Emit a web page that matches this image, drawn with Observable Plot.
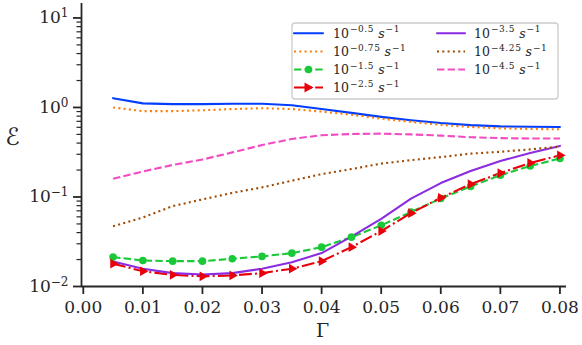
<!DOCTYPE html>
<html><head><meta charset="utf-8">
<script src="https://cdn.jsdelivr.net/npm/d3@7"></script>
<script src="https://cdn.jsdelivr.net/npm/@observablehq/plot@0.6"></script>
<style>body{margin:0;background:#fff;} #chart{position:relative;width:582px;height:345px;}</style>
</head><body><div id="chart"></div>
<script>
// ---- data ----
const gamma = [0.005,0.010,0.015,0.020,0.025,0.030,0.035,0.040,0.045,0.050,0.055,0.060,0.065,0.070,0.075,0.080];
const eps_m050 = [1.27,1.11,1.09,1.09,1.10,1.10,1.06,0.96,0.87,0.785,0.72,0.67,0.635,0.615,0.61,0.605];
const eps_m075 = [1.00,0.91,0.91,0.93,0.96,0.98,0.96,0.90,0.83,0.75,0.69,0.64,0.605,0.585,0.575,0.57];
const eps_m150 = [0.0213,0.0195,0.0192,0.0192,0.0204,0.0217,0.0236,0.0275,0.0356,0.0482,0.068,0.096,0.131,0.175,0.222,0.269];
const eps_m250 = [0.0180,0.0148,0.0135,0.0130,0.0133,0.0141,0.0158,0.0192,0.0275,0.0416,0.066,0.098,0.139,0.185,0.240,0.292];
const eps_m350 = [0.0190,0.0158,0.0141,0.0136,0.0141,0.0158,0.0187,0.0236,0.036,0.057,0.096,0.143,0.195,0.252,0.310,0.372];
const eps_m425 = [0.047,0.059,0.079,0.094,0.111,0.128,0.152,0.180,0.205,0.236,0.258,0.279,0.305,0.320,0.340,0.365];
const eps_m450 = [0.160,0.193,0.228,0.262,0.315,0.380,0.445,0.490,0.505,0.510,0.500,0.485,0.465,0.455,0.450,0.450];
const seriesExp = ["−0.5","−0.75","−1.5","−2.5","−3.5","−4.25","−4.5"];
const xTicks = [0,0.01,0.02,0.03,0.04,0.05,0.06,0.07,0.08];
const yMajor = [0.01,0.1,1,10];
const yMinor = [];
for (const d of [0.01,0.1,1]) for (let k=2;k<=9;k++) yMinor.push(d*k);

// ---- styles ----
const values = [eps_m050,eps_m075,eps_m150,eps_m250,eps_m350,eps_m425,eps_m450];
const colors = ["#023eff","#ff7c00","#1ac938","#e8000b","#8b2be2","#9f4800","#f14cc1"];
const dashes = [null,"2 3.3","7.4 3.2","12.8 3.2 2 3.2",null,"2 3.3","7.4 3.2"];
const caps = ["round","butt","butt","butt","round","butt","butt"];

const rows = values.map(v => gamma.map((g,i)=>({g, e:v[i]})));

const marks = [];
rows.forEach((r,i)=>{
  marks.push(Plot.line(r,{x:"g",y:"e",stroke:colors[i],strokeWidth:2.1,strokeDasharray:dashes[i],strokeLinecap:caps[i]}));
});
marks.push(Plot.dot(rows[2],{x:"g",y:"e",r:3.8,fill:colors[2],stroke:null}));
marks.push(Plot.dot(rows[3],{x:"g",y:"e",r:3.6,symbol:"triangle",rotate:90,fill:colors[3],stroke:null}));

const xMin = -0.0003, xMax = 0.0811;
marks.push(Plot.ruleX([xMin],{strokeWidth:1.8,stroke:"#262626"}));
marks.push(Plot.ruleY([0.01],{strokeWidth:1.8,stroke:"#262626"}));
marks.push(Plot.axisX(xTicks,{tickSize:8,tickPadding:6,strokeWidth:1.8,tickFormat:d=>d.toFixed(2),fontSize:17,label:null}));
marks.push(Plot.axisY(yMinor,{tickSize:4.5,strokeWidth:1.2,tickFormat:()=>"",label:null}));
marks.push(Plot.axisY(yMajor,{tickSize:8,tickPadding:5,strokeWidth:1.8,tickFormat:d=>String(Math.round(Math.log10(d))),fontSize:17,label:null}));
marks.push(Plot.text(["Γ"],{frameAnchor:"bottom",dy:44,dx:-1.5,fontSize:19,lineAnchor:"middle"}));
marks.push(Plot.text(["ℰ"],{frameAnchor:"left",dx:-69,dy:-7.5,fontSize:24,lineAnchor:"middle",textAnchor:"middle"}));

const svg = Plot.plot({
  width:582,height:345,
  marginLeft:81,marginRight:16,marginTop:3,marginBottom:59,
  x:{domain:[xMin,xMax],axis:null},
  y:{type:"log",domain:[0.01,14.5],axis:null},
  style:{fontFamily:"'DejaVu Serif', 'DejaVu Sans', serif",fontSize:"17px",color:"#262626",background:"white"},
  marks
});
document.getElementById("chart").appendChild(svg);

// superscript y tick labels
d3.select(svg).selectAll('g[aria-label="y-axis tick label"] text').each(function(){
  const t = d3.select(this);
  const raw = t.text();
  if (raw === "") { t.remove(); return; }
  const ex = raw.replace("-","−");
  t.text(null);
  t.append("tspan").text("10");
  t.append("tspan").attr("dy","-0.5em").attr("font-size","12px").text(ex);
});

// legend
const lg = d3.select(svg).append("g").attr("font-family","'DejaVu Serif', serif").attr("fill","#262626").attr("text-anchor","start");
lg.append("rect").attr("x",292).attr("y",23).attr("width",266).attr("height",76).attr("rx",3)
  .attr("fill","white").attr("fill-opacity",0.85).attr("stroke","#cccccc").attr("stroke-width",1.3);
const pos = [[0,0],[0,1],[0,2],[0,3],[1,0],[1,1],[1,2]];
const colX = [[294,323,333],[437,465,474]];
const rowY = [33.3,51.5,69.5,87.5];
pos.forEach(([c,r],i)=>{
  const [x0,x1,tx] = colX[c]; const y = rowY[r];
  lg.append("line").attr("x1",x0).attr("x2",x1).attr("y1",y).attr("y2",y)
    .attr("stroke",colors[i]).attr("stroke-width",2.1).attr("stroke-dasharray",dashes[i]).attr("stroke-linecap",caps[i]);
  const xm=(x0+x1)/2;
  if (i===2) lg.append("circle").attr("cx",xm).attr("cy",y).attr("r",3.8).attr("fill",colors[i]);
  if (i===3) lg.append("path").attr("d",`M${xm-4},${y-5}L${xm+5},${y}L${xm-4},${y+5}Z`).attr("fill",colors[i]);
  const t = lg.append("text").attr("x",tx).attr("y",y+4.5).attr("font-size","12.5px");
  t.append("tspan").text("10");
  t.append("tspan").attr("dx",1).attr("dy",-5.5).attr("font-size","9px").attr("letter-spacing","0.6").text(seriesExp[i]);
  t.append("tspan").attr("dx",4).attr("dy",5.5).attr("font-style","italic").text("s");
  t.append("tspan").attr("dx",1).attr("dy",-5.5).attr("font-size","9px").attr("letter-spacing","0.6").text("−1");
});
</script>
</body></html>
